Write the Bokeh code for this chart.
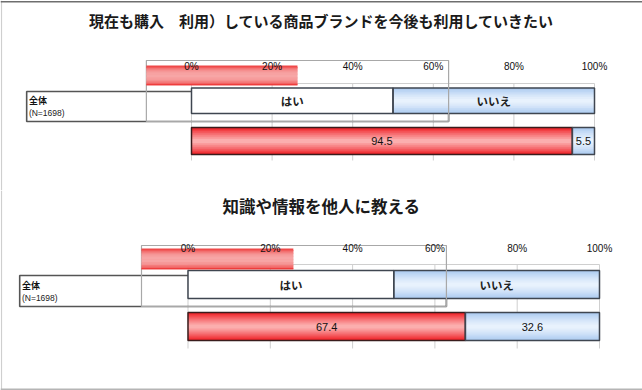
from bokeh.plotting import figure
from bokeh.layouts import column
from bokeh.models import ColumnDataSource, Range1d, Grid
from bokeh.core.properties import value
from bokeh.embed import file_html
from bokeh.resources import INLINE

# ---------------- data ----------------
titles = ["現在も購入　利用）している商品ブランドを今後も利用していきたい",
          "知識や情報を他人に教える"]
yes_values = [94.5, 67.4]
no_values = [5.5, 32.6]
ticks = [0, 20, 40, 60, 80, 100]
tick_labels = ["0%", "20%", "40%", "60%", "80%", "100%"]
legend_labels = ["はい", "いいえ"]
legend_spans = [[0, 50], [50, 100]]
row_label = "全体"
row_n = "(N=1698)"

# ---------------- layout (reference pixel positions) ----------------
W = 642
panels = [
    dict(top=0, h=190, zero=191.0, ppp=4.03, title=20, ticks=66, line=83,
         leg=(87.5, 113), lab=(91, 121), gray=(60, 121), glitch=(65, 85),
         bar=(127, 154), gridbot=160, labtxt=(100, 112),
         gray_x=(-11.2, 63.8), glitch_x=(-11.2, 26.3), lab_x=(-40.9, 63.8),
         title_size="15px", border=("top",)),
    dict(top=190, h=200, zero=187.5, ppp=4.115, title=205.5, ticks=248, line=264,
         leg=(270, 298), lab=(275, 306), gray=(245, 306), glitch=(248, 269),
         bar=(312, 340), gridbot=348, labtxt=(285, 297),
         gray_x=(-11.3, 62.8), glitch_x=(-11.3, 25.6), lab_x=(-40.9, 62.8),
         title_size="16.5px", border=("bottom",)),
]

JP = value("Noto Sans CJK JP")
LAT = value("Liberation Sans")


def hex2rgb(h):
    h = h.lstrip("#")
    return tuple(int(h[i:i + 2], 16) for i in (0, 2, 4))


def mix(c1, c2, s):
    a, b = hex2rgb(c1), hex2rgb(c2)
    return "#%02x%02x%02x" % tuple(int(round(a[i] + (b[i] - a[i]) * s)) for i in range(3))


def gradient(p, lefts, rights, y0, y1, edge, center, k=14, power=1.0, alpha=1.0):
    L, R, T, B, C = [], [], [], [], []
    for l, r in zip(lefts, rights):
        for j in range(k):
            t = (j + 0.5) / k
            s = abs(2 * t - 1) ** power
            L.append(l)
            R.append(r)
            T.append(y0 + (y1 - y0) * j / k)
            B.append(min(y1, y0 + (y1 - y0) * (j + 1) / k + 1.0))
            C.append(mix(center, edge, s))
    src = ColumnDataSource(dict(left=L, right=R, top=T, bottom=B, color=C))
    p.quad(left="left", right="right", top="top", bottom="bottom", source=src,
           fill_color="color", line_color=None, fill_alpha=alpha)


figs = []
for i, cfg in enumerate(panels):
    off = cfg["top"]
    ppp = cfg["ppp"]
    xs = -cfg["zero"] / ppp
    xe = xs + W / ppp
    p = figure(width=W, height=cfg["h"], output_backend="svg", toolbar_location=None,
               x_axis_location=None, y_axis_location=None,
               x_range=Range1d(xs, xe), y_range=Range1d(cfg["h"], 0),
               min_border=0, min_border_left=0, min_border_right=0,
               min_border_top=0, min_border_bottom=0)
    p.outline_line_color = None
    p.background_fill_color = "white"
    p.border_fill_color = "white"
    for g in p.select(type=Grid):
        g.visible = False

    def Y(v):
        return v - off

    px = 1.0 / ppp  # one pixel in x data units

    # outer picture frame
    p.segment(x0=[xs + px], x1=[xs + px], y0=[0], y1=[cfg["h"]], line_color="#cfcfcf", line_width=1.2)
    if "top" in cfg["border"]:
        p.segment(x0=[xs], x1=[xe], y0=[1.2], y1=[1.2], line_color="#6e6e6e", line_width=1.5)
    if "bottom" in cfg["border"]:
        p.segment(x0=[xs], x1=[xe], y0=[cfg["h"] - 1.2], y1=[cfg["h"] - 1.2],
                  line_color="#b5b5b5", line_width=1.5)

    # plot area top line + gridlines
    p.segment(x0=[ticks[0]], x1=[ticks[-1]], y0=[Y(cfg["line"])], y1=[Y(cfg["line"])],
              line_color="#cfcfcf", line_width=1)
    p.segment(x0=ticks, x1=ticks, y0=[Y(cfg["line"])] * len(ticks),
              y1=[Y(cfg["gridbot"])] * len(ticks), line_color="#cfcfcf", line_width=1)

    # row label box
    p.quad(left=[cfg["lab_x"][0]], right=[cfg["lab_x"][1]], top=[Y(cfg["lab"][0])],
           bottom=[Y(cfg["lab"][1])], fill_color=None, line_color="#555555", line_width=1.6)

    # legend row (はい / いいえ)
    ly0, ly1 = Y(cfg["leg"][0]), Y(cfg["leg"][1])
    p.quad(left=[legend_spans[0][0]], right=[legend_spans[0][1]], top=[ly0], bottom=[ly1],
           fill_color="white", line_color=None)
    gradient(p, [legend_spans[1][0]], [legend_spans[1][1]], ly0, ly1, "#a9c9f0", "#eaf3fd", power=1.3)
    p.quad(left=[s[0] for s in legend_spans], right=[s[1] for s in legend_spans],
           top=[ly0, ly0], bottom=[ly1, ly1], fill_color=None, line_color="#3f4650", line_width=1.5)
    p.text(x=[(s[0] + s[1]) / 2 for s in legend_spans], y=[(ly0 + ly1) / 2] * 2,
           text=legend_labels, text_font=JP, text_font_size="11.5px", text_font_style="bold",
           text_color="#222222", text_align="center", text_baseline="middle")

    # data bar
    yv, nv = yes_values[i], no_values[i]
    by0, by1 = Y(cfg["bar"][0]), Y(cfg["bar"][1])
    gradient(p, [0], [yv], by0, by1, "#ee1a20", "#fcb4b4", power=1.2)
    gradient(p, [yv], [yv + nv], by0, by1, "#a9c9f0", "#eaf3fd", power=1.3)
    p.quad(left=[0, yv], right=[yv, yv + nv], top=[by0, by0], bottom=[by1, by1],
           fill_color=None, line_color=["#3a1c1c", "#3f4650"], line_width=1.5)
    p.text(x=[yv / 2, yv + nv / 2], y=[(by0 + by1) / 2] * 2,
           text=["%.1f" % yv, "%.1f" % nv], text_font=LAT, text_font_size="11px",
           text_color="#111111", text_align="center", text_baseline="middle")

    # overlapping frame + red band artefacts
    p.quad(left=[cfg["gray_x"][0]], right=[cfg["gray_x"][1]], top=[Y(cfg["gray"][0])],
           bottom=[Y(cfg["gray"][1])], fill_color=None, line_color="#a8a8a8", line_width=1.2)
    gradient(p, [cfg["glitch_x"][0]], [cfg["glitch_x"][1]], Y(cfg["glitch"][0]), Y(cfg["glitch"][1]),
             "#ec2424", "#f6a2a2", power=2.5, alpha=0.92)

    # tick labels
    p.text(x=ticks, y=[Y(cfg["ticks"])] * len(ticks), text=tick_labels, text_font=LAT,
           text_font_size="10px", text_color="#111111", text_align="center",
           text_baseline="middle")

    # row label texts
    p.text(x=[cfg["lab_x"][0] + 0.55], y=[Y(cfg["labtxt"][0])], text=[row_label], text_font=JP,
           text_font_size="9px", text_font_style="bold", text_color="#111111",
           text_align="left", text_baseline="middle")
    p.text(x=[cfg["lab_x"][0] + 0.55], y=[Y(cfg["labtxt"][1])], text=[row_n], text_font=LAT,
           text_font_size="8.5px", text_color="#222222", text_align="left", text_baseline="middle")

    # panel title
    p.text(x=[(xs + xe) / 2], y=[Y(cfg["title"])], text=[titles[i]], text_font=JP,
           text_font_size=cfg["title_size"], text_font_style="bold", text_color="#1a1a1a",
           text_align="center", text_baseline="middle")
    figs.append(p)

layout = column(*figs, spacing=0)
open("out.html", "w").write(file_html(layout, INLINE))
